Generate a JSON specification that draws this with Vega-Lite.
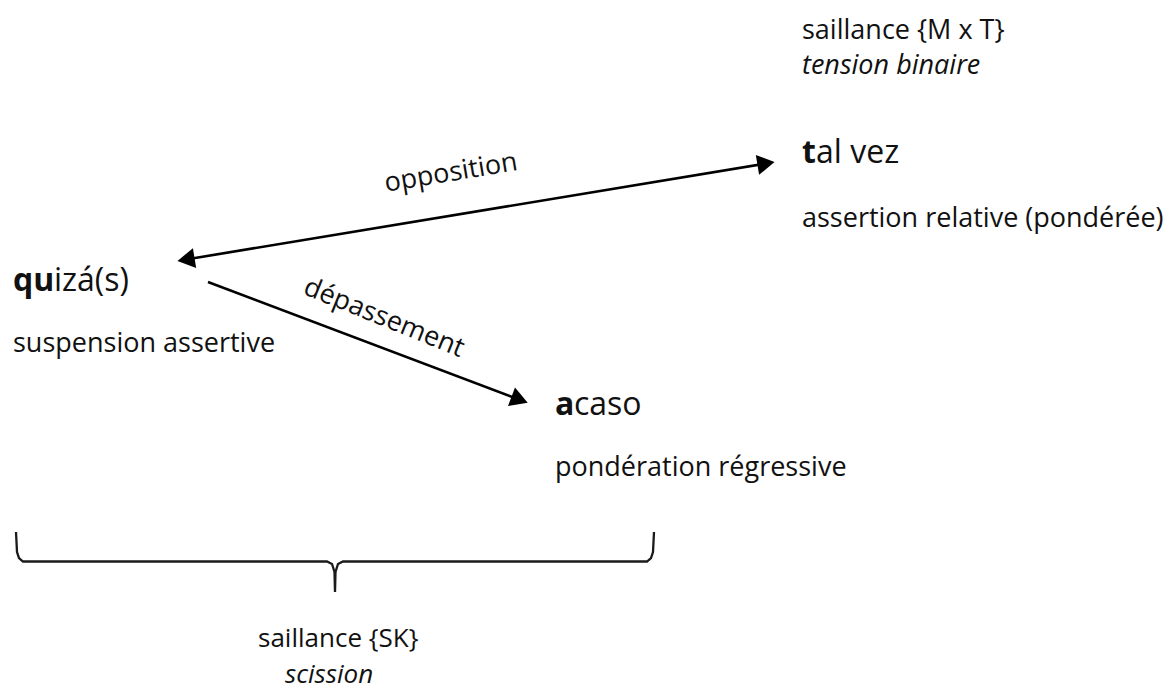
{
  "$schema": "https://vega.github.io/schema/vega-lite/v6.json",
  "width": 1170,
  "height": 693,
  "padding": 0,
  "autosize": {"type": "fit", "contains": "padding"},
  "background": "white",
  "config": {"view": {"stroke": null}},
  "datasets": {
    "arrows": [
      {"id": "opposition", "x": 186, "y": 259.5, "x2": 766, "y2": 163.5},
      {"id": "depassement", "x": 208, "y": 282, "x2": 520, "y2": 400}
    ],
    "heads": [
      {"id": "opposition-left", "x": 186, "y": 259.5, "angle": 170.6},
      {"id": "opposition-right", "x": 766, "y": 163.5, "angle": 350.6},
      {"id": "depassement", "x": 519.6, "y": 399.8, "angle": 20.7}
    ],
    "brace": [
      {"i": 0, "x": 16, "y": 532},
      {"i": 1, "x": 17, "y": 552},
      {"i": 2, "x": 19, "y": 558},
      {"i": 3, "x": 23, "y": 561.5},
      {"i": 4, "x": 327, "y": 561.5},
      {"i": 5, "x": 332, "y": 564},
      {"i": 6, "x": 334.5, "y": 572},
      {"i": 7, "x": 335, "y": 592},
      {"i": 8, "x": 335.5, "y": 572},
      {"i": 9, "x": 338, "y": 564},
      {"i": 10, "x": 343, "y": 561.5},
      {"i": 11, "x": 647, "y": 561.5},
      {"i": 12, "x": 651, "y": 558},
      {"i": 13, "x": 653, "y": 552},
      {"i": 14, "x": 654, "y": 532}
    ],
    "labels": [
      {"text": "saillance {M x T}", "x": 802, "y": 39, "size": 27, "style": "normal"},
      {"text": "tension binaire", "x": 802, "y": 74, "size": 27, "style": "italic"},
      {"text": "t", "x": 802, "y": 163, "size": 32, "style": "bold"},
      {"text": "al vez", "x": 816, "y": 163, "size": 32, "style": "normal"},
      {"text": "assertion relative (pondérée)", "x": 802, "y": 227, "size": 27, "style": "normal"},
      {"text": "qu", "x": 13, "y": 291, "size": 32, "style": "bold"},
      {"text": "izá(s)", "x": 54, "y": 291, "size": 32, "style": "normal"},
      {"text": "suspension assertive", "x": 13, "y": 352, "size": 27, "style": "normal"},
      {"text": "a", "x": 555, "y": 415, "size": 32, "style": "bold"},
      {"text": "caso", "x": 574, "y": 415, "size": 32, "style": "normal"},
      {"text": "pondération régressive", "x": 555, "y": 476, "size": 27, "style": "normal"},
      {"text": "saillance {SK}", "x": 258, "y": 647, "size": 26, "style": "normal"},
      {"text": "scission", "x": 285, "y": 683, "size": 26, "style": "italic"}
    ],
    "edgeLabels": [
      {"text": "opposition", "x": 451, "y": 173, "angle": -9.4},
      {"text": "dépassement", "x": 384, "y": 318, "angle": 22}
    ]
  },
  "layer": [
    {
      "data": {"name": "brace"},
      "mark": {"type": "line", "color": "#1a1a1a", "strokeWidth": 2.3, "interpolate": "linear"},
      "encoding": {
        "x": {"field": "x", "type": "quantitative", "scale": {"domain": [0, 1170], "nice": false, "zero": false}, "axis": null},
        "y": {"field": "y", "type": "quantitative", "scale": {"domain": [0, 693], "nice": false, "zero": false, "reverse": true}, "axis": null},
        "order": {"field": "i", "type": "quantitative"}
      }
    },
    {
      "data": {"name": "arrows"},
      "mark": {"type": "rule", "color": "black", "strokeWidth": 2.6},
      "encoding": {
        "x": {"field": "x", "type": "quantitative"},
        "y": {"field": "y", "type": "quantitative"},
        "x2": {"field": "x2"},
        "y2": {"field": "y2"}
      }
    },
    {
      "data": {"name": "heads"},
      "mark": {"type": "point", "shape": "triangle-right", "filled": true, "color": "black", "size": 400, "opacity": 1},
      "encoding": {
        "x": {"field": "x", "type": "quantitative"},
        "y": {"field": "y", "type": "quantitative"},
        "angle": {"field": "angle", "type": "quantitative", "scale": null}
      }
    },
    {
      "data": {"name": "labels"},
      "transform": [{"filter": "datum.style === 'normal'"}],
      "mark": {"type": "text", "align": "left", "baseline": "alphabetic", "font": "Open Sans", "color": "#111111"},
      "encoding": {
        "x": {"field": "x", "type": "quantitative"},
        "y": {"field": "y", "type": "quantitative"},
        "text": {"field": "text"},
        "size": {"field": "size", "type": "quantitative", "scale": null}
      }
    },
    {
      "data": {"name": "labels"},
      "transform": [{"filter": "datum.style === 'bold'"}],
      "mark": {"type": "text", "align": "left", "baseline": "alphabetic", "font": "Open Sans", "fontWeight": "bold", "color": "#111111"},
      "encoding": {
        "x": {"field": "x", "type": "quantitative"},
        "y": {"field": "y", "type": "quantitative"},
        "text": {"field": "text"},
        "size": {"field": "size", "type": "quantitative", "scale": null}
      }
    },
    {
      "data": {"name": "labels"},
      "transform": [{"filter": "datum.style === 'italic'"}],
      "mark": {"type": "text", "align": "left", "baseline": "alphabetic", "font": "Open Sans", "fontStyle": "italic", "color": "#111111"},
      "encoding": {
        "x": {"field": "x", "type": "quantitative"},
        "y": {"field": "y", "type": "quantitative"},
        "text": {"field": "text"},
        "size": {"field": "size", "type": "quantitative", "scale": null}
      }
    },
    {
      "data": {"name": "edgeLabels"},
      "mark": {"type": "text", "align": "center", "baseline": "middle", "font": "Open Sans", "fontSize": 27, "color": "#111111"},
      "encoding": {
        "x": {"field": "x", "type": "quantitative"},
        "y": {"field": "y", "type": "quantitative"},
        "text": {"field": "text"},
        "angle": {"field": "angle", "type": "quantitative", "scale": null}
      }
    }
  ]
}
